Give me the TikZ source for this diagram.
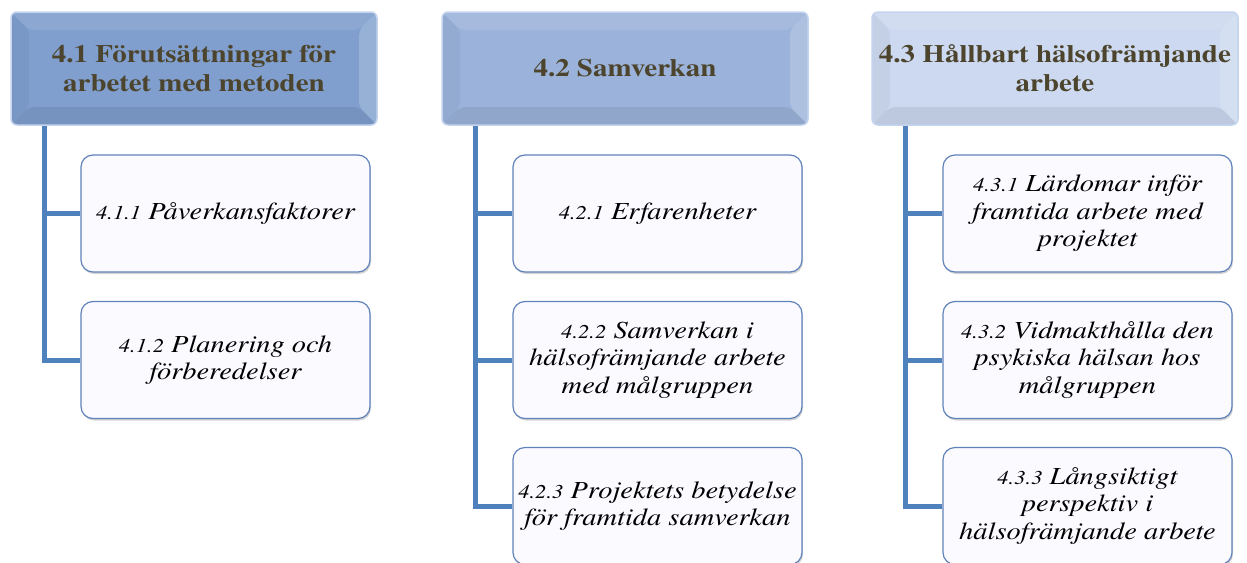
\documentclass[tikz,border=0pt]{standalone}
\usepackage{fontspec}
\setmainfont{texgyretermes}[Extension=.otf, UprightFont=*-regular, ItalicFont=*-italic,
  BoldFont=*-bold, BoldItalicFont=*-bolditalic, FakeStretch=1.16]
\usetikzlibrary{shadows}

\definecolor{trunkblue}{RGB}{79,129,189}
\definecolor{headtext}{RGB}{76,68,44}
\definecolor{headA}{RGB}{128,159,206}
\definecolor{headB}{RGB}{155,179,218}
\definecolor{headC}{RGB}{204,217,240}
\definecolor{headglow}{RGB}{196,212,238}
\definecolor{subfill}{RGB}{251,250,255}
\definecolor{subline}{RGB}{96,130,186}

% kleinere Nummer vor dem Titel
\newcommand{\secno}[1]{{\fontsize{19.5}{27.5}\selectfont #1}}

\tikzset{
  bevel/.style={path picture={
    \def\bb{path picture bounding box}
    \fill[white, opacity=.10] (\bb.north west) -- (\bb.north east)
      -- ([xshift=-18pt,yshift=-18pt]\bb.north east) -- ([xshift=18pt,yshift=-18pt]\bb.north west) -- cycle;
    \fill[white, opacity=.18] (\bb.north east) -- (\bb.south east)
      -- ([xshift=-18pt,yshift=18pt]\bb.south east) -- ([xshift=-18pt,yshift=-18pt]\bb.north east) -- cycle;
    \fill[black, opacity=.04] (\bb.north west) -- (\bb.south west)
      -- ([xshift=18pt,yshift=18pt]\bb.south west) -- ([xshift=18pt,yshift=-18pt]\bb.north west) -- cycle;
    \fill[black, opacity=.07] (\bb.south west) -- (\bb.south east)
      -- ([xshift=-18pt,yshift=18pt]\bb.south east) -- ([xshift=18pt,yshift=18pt]\bb.south west) -- cycle;
  }},
  headbox/.style={rectangle, rounded corners=6pt, minimum width=366pt, minimum height=113pt,
    inner sep=0pt, align=center, text=headtext, draw=headglow, line width=1.5pt,
    font=\fontsize{25}{29}\selectfont\bfseries, bevel},
  subbox/.style={rectangle, rounded corners=12pt, minimum width=289pt, minimum height=117pt,
    inner sep=0pt, align=center, fill=subfill, draw=subline, line width=1.2pt,
    drop shadow={shadow xshift=1pt, shadow yshift=-2pt, opacity=.35, fill=gray},
    font=\fontsize{24.5}{27.5}\selectfont\itshape},
  trunk/.style={draw=trunkblue, line width=5pt}
}

\begin{document}
\begin{tikzpicture}[x=1pt, y=-1pt]
  \useasboundingbox (0,0) rectangle (1247,562);

  % Kopfzeilen
  \node[headbox, fill=headA] (h1) at (194,68.5)  {4.1 Förutsättningar för\\arbetet med metoden};
  \node[headbox, fill=headB] (h2) at (625,68.5)  {4.2 Samverkan};
  \node[headbox, fill=headC] (h3) at (1055,68.5) {4.3 Hållbart hälsofrämjande\\arbete};

  % Spalte 1
  \node[subbox] (c11) at (225.5,213.5) {\secno{4.1.1} Påverkansfaktorer};
  \node[subbox] (c12) at (225.5,360)   {\secno{4.1.2} Planering och\\förberedelser};
  % Spalte 2
  \node[subbox] (c21) at (657.5,213.5) {\secno{4.2.1} Erfarenheter};
  \node[subbox] (c22) at (657.5,360)   {\secno{4.2.2} Samverkan i\\hälsofrämjande arbete\\med målgruppen};
  \node[subbox] (c23) at (657.5,506)   {\secno{4.2.3} Projektets betydelse\\för framtida samverkan};
  % Spalte 3
  \node[subbox] (c31) at (1087.5,213.5) {\secno{4.3.1} Lärdomar inför\\framtida arbete med\\projektet};
  \node[subbox] (c32) at (1087.5,360)   {\secno{4.3.2} Vidmakthålla den\\psykiska hälsan hos\\målgruppen};
  \node[subbox] (c33) at (1087.5,506)   {\secno{4.3.3} Långsiktigt\\perspektiv i\\hälsofrämjande arbete};

  % Verbindungslinien
  \coordinate (t1) at ([xshift=34.5pt]h1.south west);
  \coordinate (t2) at ([xshift=34.5pt]h2.south west);
  \coordinate (t3) at ([xshift=34.5pt]h3.south west);
  \draw[trunk] (t1) |- (c12.west);
  \draw[trunk] (t1 |- c11.west) -- (c11.west);
  \draw[trunk] (t2) |- (c23.west);
  \draw[trunk] (t2 |- c21.west) -- (c21.west);
  \draw[trunk] (t2 |- c22.west) -- (c22.west);
  \draw[trunk] (t3) |- (c33.west);
  \draw[trunk] (t3 |- c31.west) -- (c31.west);
  \draw[trunk] (t3 |- c32.west) -- (c32.west);
\end{tikzpicture}
\end{document}
